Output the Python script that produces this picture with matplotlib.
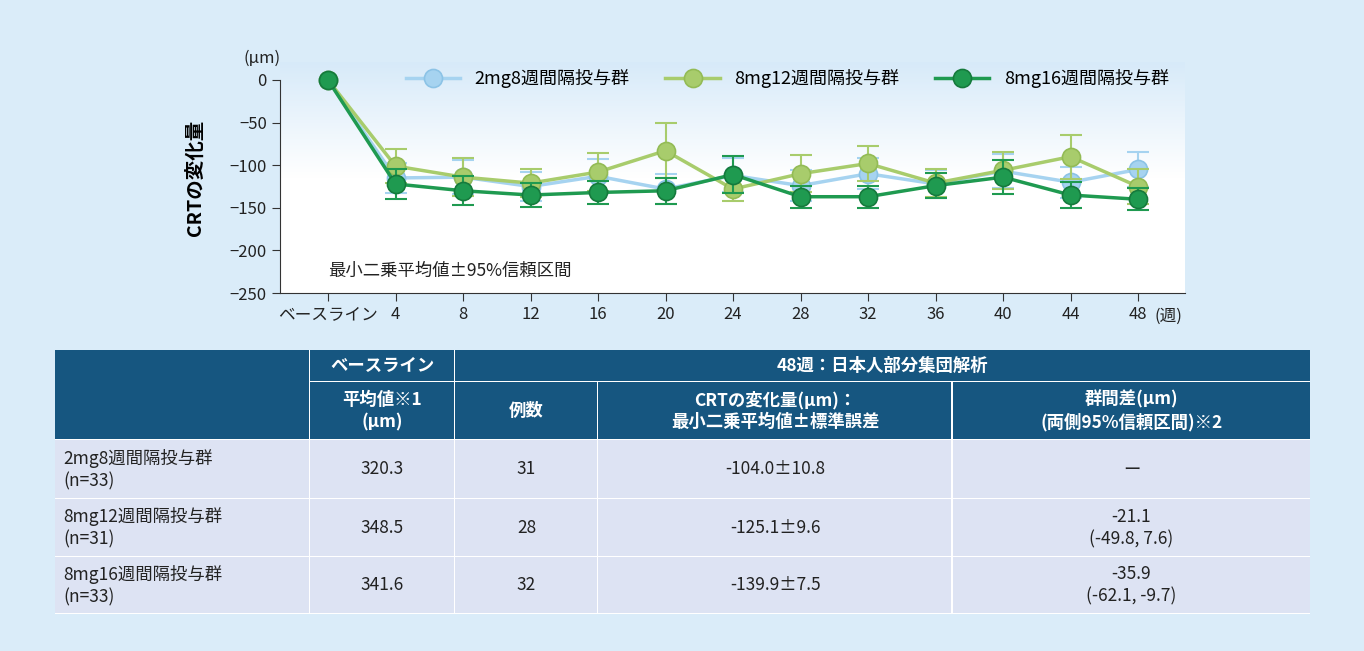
import matplotlib
matplotlib.use("Agg")
import matplotlib.pyplot as plt
import numpy as np
from matplotlib.patches import Rectangle
from matplotlib.colors import LinearSegmentedColormap

plt.rcParams["font.family"] = ["Noto Sans CJK JP"]

weeks = ["ベースライン", "4", "8", "12", "16", "20", "24", "28", "32", "36", "40", "44", "48"]
series_names = ["2mg8週間隔投与群", "8mg12週間隔投与群", "8mg16週間隔投与群"]
mean_2mg8 = [0, -115, -114, -125, -113, -128, -112, -124, -110, -122, -107, -120, -105]
mean_8mg12 = [0, -101, -114, -121, -108, -83, -128, -110, -98, -121, -106, -90, -125]
mean_8mg16 = [0, -122, -130, -135, -132, -130, -111, -137, -137, -124, -114, -135, -140]
ci_2mg8 = [0, 18, 20, 17, 20, 18, 20, 18, 18, 16, 20, 18, 20]
ci_8mg12 = [0, 20, 22, 16, 22, 32, 14, 22, 20, 16, 22, 26, 20]
ci_8mg16 = [0, 18, 17, 14, 14, 15, 22, 13, 13, 15, 20, 15, 13]
colors = ["#a6d3f0", "#a8cc6c", "#1f9a50"]
edges = ["#8cc3e6", "#93bb55", "#157a3c"]

table_header1 = ["", "ベースライン", "48週：日本人部分集団解析"]
table_header2 = ["平均値※1\n(μm)", "例数", "CRTの変化量(μm)：\n最小二乗平均値±標準誤差", "群間差(μm)\n(両側95%信頼区間)※2"]
row_labels = ["2mg8週間隔投与群\n(n=33)", "8mg12週間隔投与群\n(n=31)", "8mg16週間隔投与群\n(n=33)"]
baseline_mean = ["320.3", "348.5", "341.6"]
n_cases = ["31", "28", "32"]
crt_change = ["-104.0±10.8", "-125.1±9.6", "-139.9±7.5"]
group_diff = ["ー", "-21.1\n(-49.8, 7.6)", "-35.9\n(-62.1, -9.7)"]

W, H = 1364, 651
fig = plt.figure(figsize=(W/100, H/100), dpi=100)
fig.patch.set_facecolor("#daecf9")

def rect(x, y, w, h, c):
    fig.add_artist(Rectangle((x/W, 1-(y+h)/H), w/W, h/H, transform=fig.transFigure, facecolor=c, edgecolor="none"))

def ftext(x, y, s, **kw):
    fig.text(x/W, 1-y/H, s, **kw)

# chart axes
ax_top, ax_bot, ax_l, ax_r = 62, 293, 280, 1185
ax = fig.add_axes([ax_l/W, 1-ax_bot/H, (ax_r-ax_l)/W, (ax_bot-ax_top)/H])
ax.set_zorder(3)
x = np.arange(len(weeks))
px = 67.5
xl0 = -(328-ax_l)/px
xl1 = (ax_r-328)/px
ylo, yhi = -250, (80-ax_top)/(213/250)
ax.set_xlim(xl0, xl1)
ax.set_ylim(ylo, yhi)
grad = np.linspace(0, 1, 256).reshape(-1, 1)
cmap = LinearSegmentedColormap.from_list("g", ["#ffffff", "#ffffff", "#d7eaf9"])
ax.imshow(grad, extent=[xl0, xl1, ylo, yhi], origin="lower", aspect="auto", cmap=cmap, zorder=0)
for sp in ["top", "right"]:
    ax.spines[sp].set_visible(False)
ax.spines["left"].set_bounds(-250, 0)
ax.spines["left"].set_color("#333333")
ax.spines["bottom"].set_color("#333333")
ax.set_yticks([0, -50, -100, -150, -200, -250])
ax.set_yticklabels(["0", "−50", "−100", "−150", "−200", "−250"])
ax.set_xticks(x)
ax.set_xticklabels(weeks)
ax.tick_params(labelsize=12, length=6, color="#333333", labelcolor="#222222")
ax.set_ylabel("CRTの変化量", fontsize=14, fontweight="bold", labelpad=18)

means = [mean_2mg8, mean_8mg12, mean_8mg16]
cis = [ci_2mg8, ci_8mg12, ci_8mg16]
for i in range(3):
    m = np.array(means[i]); e = np.array(cis[i])
    ax.errorbar(x[1:], m[1:], yerr=e[1:], fmt="none", ecolor=colors[i], elinewidth=1.5, capsize=8, capthick=1.5, zorder=2+i)
    ax.plot(x, m, "-o", color=colors[i], lw=2.5, ms=13, mfc=colors[i], mec=edges[i], mew=1.2, zorder=3+i, label=series_names[i])
ax.legend(loc="upper right", bbox_to_anchor=(1.0, 1.04), ncol=3, frameon=False, fontsize=13, handlelength=3, columnspacing=2)
ax.text(0, -230, "最小二乗平均値±95%信頼区間", fontsize=12.5, color="#222222")
ftext(262, 58, "(μm)", fontsize=12, ha="center", va="center", color="#222222")
ftext(1168, 316, "(週)", fontsize=12, ha="center", va="center", color="#222222")

# table
xe = [55, 310, 455, 598, 953, 1310]
ye = [350, 382, 440, 499, 557, 614]
dark = "#165680"
light0 = "#dde3f3"
g = 1.5
rect(xe[0], ye[0], xe[5]-xe[0], ye[5]-ye[0], "#ffffff")
rect(xe[0], ye[0], xe[1]-xe[0]-g, ye[2]-ye[0]-g, dark)
rect(xe[1], ye[0], xe[2]-xe[1]-g, ye[1]-ye[0]-g, dark)
rect(xe[2], ye[0], xe[5]-xe[2], ye[1]-ye[0]-g, dark)
for c in range(1, 5):
    rect(xe[c], ye[1], xe[c+1]-xe[c]-(g if c < 4 else 0), ye[2]-ye[1]-g, dark)
ftext((xe[1]+xe[2])/2, (ye[0]+ye[1])/2, table_header1[1], color="white", fontsize=12.5, fontweight="bold", ha="center", va="center")
ftext((xe[2]+xe[5])/2, (ye[0]+ye[1])/2, table_header1[2], color="white", fontsize=12.5, fontweight="bold", ha="center", va="center")
for c in range(1, 5):
    ftext((xe[c]+xe[c+1])/2, (ye[1]+ye[2])/2, table_header2[c-1], color="white", fontsize=12.5, fontweight="bold", ha="center", va="center", linespacing=1.3)
cols = [baseline_mean, n_cases, crt_change, group_diff]
for r in range(3):
    y0, y1 = ye[r+2], ye[r+3]
    rect(xe[0], y0, xe[1]-xe[0]-g, y1-y0-g, light0)
    ftext(xe[0]+8, (y0+y1)/2, row_labels[r], fontsize=12.5, ha="left", va="center", color="#222222", linespacing=1.3)
    for c in range(1, 5):
        rect(xe[c], y0, xe[c+1]-xe[c]-(g if c < 4 else 0), y1-y0-g, light0)
        ftext((xe[c]+xe[c+1])/2, (y0+y1)/2, cols[c-1][r], fontsize=12.5, ha="center", va="center", color="#222222", linespacing=1.3)

fig.savefig("out.png", dpi=100, facecolor=fig.get_facecolor())
